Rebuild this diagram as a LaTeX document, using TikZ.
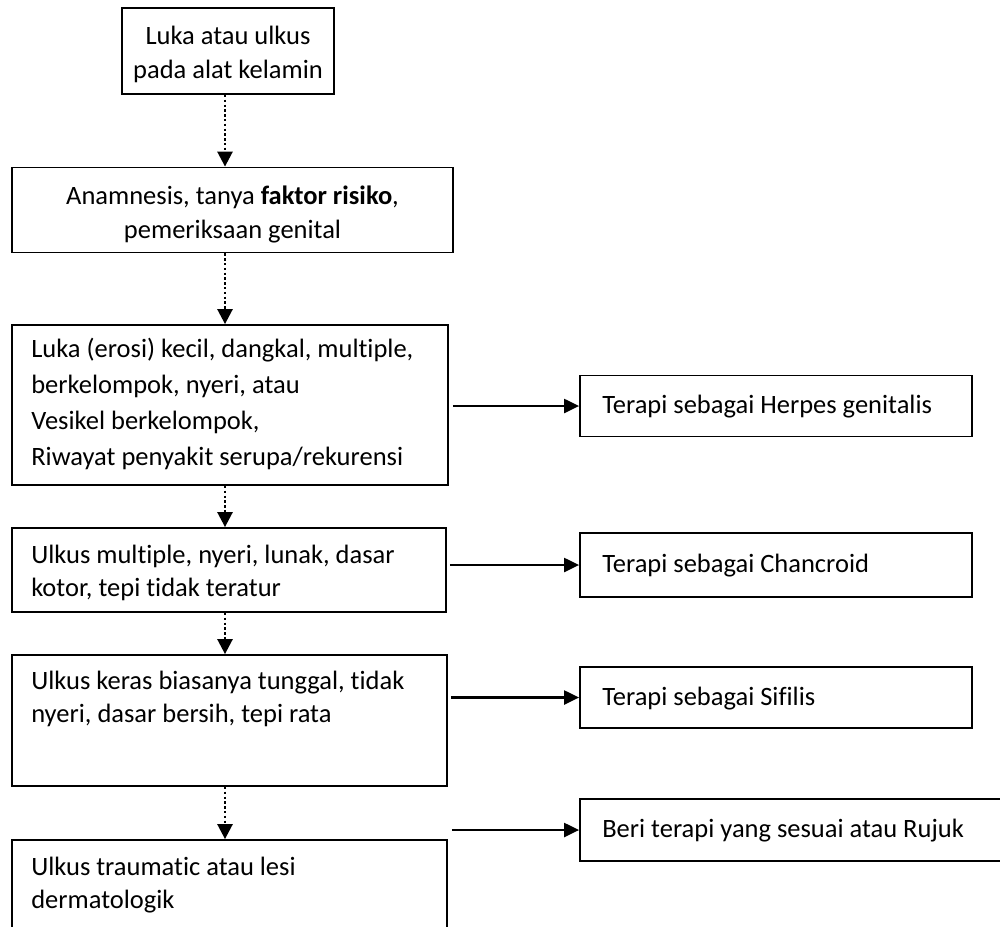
\documentclass[tikz,border=0pt]{standalone}
\usepackage{fontspec}
\setmainfont{Carlito}[Ligatures=NoCommon]
\usetikzlibrary{arrows.meta,calc}
\begin{document}
\begin{tikzpicture}[x=1pt,y=-1pt,
  box/.style={draw, line width=1.8pt, rectangle, inner sep=0pt},
  txt/.style={inner sep=0pt, align=left, font=\fontsize{26.5}{33}\selectfont},
  ctxt/.style={inner sep=0pt, align=center, font=\fontsize{26.5}{34}\selectfont},
  dotarrow/.style={line width=2.6pt, dash pattern=on 2.4pt off 2.4pt,
    -{Triangle[width=15pt,length=15pt]}},
  solidarrow/.style={line width=2.2pt, -{Triangle[width=14pt,length=15pt]}}
]
\clip (0,0) rectangle (1000,926);
\fill[white] (0,0) rectangle (1000,926);

% main column
\node[box, minimum width=212, minimum height=86] (b1) at (228,51) {};
\node[ctxt] (t1) at ($(b1.center)+(0,3)$) {Luka atau ulkus\\pada alat kelamin};
\node[box, minimum width=441, minimum height=85] (b2) at (232.5,210) {};
\node[ctxt] (t2) at ($(b2.center)+(0,4)$)
  {Anamnesis, tanya \textbf{faktor risiko},\\pemeriksaan genital};
\node[box, minimum width=436, minimum height=160] (b3) at (230,405) {};
\node[txt, anchor=west, font=\fontsize{26.5}{36}\selectfont] (t3) at ($(b3.west)+(20,-1)$)
  {Luka (erosi) kecil, dangkal, multiple,\\berkelompok, nyeri, atau\\Vesikel berkelompok,\\Riwayat penyakit serupa/rekurensi};
\node[box, minimum width=434, minimum height=84] (b4) at (229,570) {};
\node[txt, anchor=west] (t4) at ($(b4.west)+(20,3)$)
  {Ulkus multiple, nyeri, lunak, dasar\\kotor, tepi tidak teratur};
\node[box, minimum width=435, minimum height=131] (b5) at (229.5,720.5) {};
\node[txt, anchor=north west] (t5) at ($(b5.north west)+(20,17)$)
  {Ulkus keras biasanya tunggal, tidak\\nyeri, dasar bersih, tepi rata};
\node[box, minimum width=435, minimum height=130] (b6) at (229.5,905) {};
\node[txt, anchor=north west] (t6) at ($(b6.north west)+(20,18)$)
  {Ulkus traumatic atau lesi\\dermatologik};

% treatment column
\node[box, minimum width=392, minimum height=61] (r1) at (776,406) {};
\node[txt, anchor=west] (s1) at ($(r1.west)+(23,1)$) {Terapi sebagai Herpes genitalis};
\node[box, minimum width=392, minimum height=64] (r2) at (776,565) {};
\node[txt, anchor=west] (s2) at ($(r2.west)+(23,1)$) {Terapi sebagai Chancroid};
\node[box, minimum width=392, minimum height=61] (r3) at (776,697.5) {};
\node[txt, anchor=west] (s3) at ($(r3.west)+(23,1)$) {Terapi sebagai Sifilis};
\node[box, minimum width=440, minimum height=62] (r4) at (800,830) {};
\node[txt, anchor=west] (s4) at ($(r4.west)+(23,1)$) {Beri terapi yang sesuai atau Rujuk};

% dotted flow down the main column
\coordinate (axis) at (225,0);
\draw[dotarrow] (b1.south -| axis) -- (b2.north -| axis);
\draw[dotarrow] (b2.south -| axis) -- (b3.north -| axis);
\draw[dotarrow] (b3.south -| axis) -- (b4.north -| axis);
\draw[dotarrow] (b4.south -| axis) -- (b5.north -| axis);
\draw[dotarrow] (b5.south -| axis) -- (b6.north -| axis);

% arrows to the treatments
\draw[solidarrow, shorten <=4pt] (b3.east |- r1.west) -- (r1.west);
\draw[solidarrow, shorten <=3pt] (b4.east |- r2.west) -- (r2.west);
\draw[solidarrow, shorten <=3pt] (b5.east |- r3.west) -- (r3.west);
\coordinate (c6) at ($(b6.east |- r4.west)+(4,0)$);
\draw[solidarrow] (c6) -- (r4.west);
\end{tikzpicture}
\end{document}
